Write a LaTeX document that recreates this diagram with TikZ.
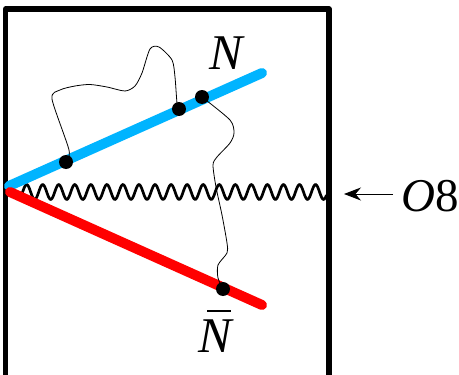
\documentclass[tikz,border=0pt]{standalone}
\usepackage{fontspec}
\setmainfont{Liberation Serif}
\usetikzlibrary{arrows.meta}
\definecolor{nblue}{RGB}{0,180,255}
\tikzset{
  frame/.style={line width=5.2pt,line join=round,black},
  quark/.style={line width=10pt,line cap=round},
  gluon/.style={line width=2.7pt,black},
  string/.style={line width=0.8pt,black},
  dot/.style={circle,fill=black,inner sep=0pt,minimum size=14pt},
  lab/.style={font=\fontsize{50}{50}\selectfont,inner sep=0pt,anchor=base west},
  oplab/.style={font=\fontsize{47}{47}\selectfont,inner sep=0pt,anchor=base west}
}
\begin{document}
\begin{tikzpicture}[x=1pt,y=-1pt]
\useasboundingbox (0,0) rectangle (459,375);
\fill[white] (0,0) rectangle (459,375);
\draw[frame] (5.5,380) -- (5.5,9) -- (329,9) -- (329,380);
\draw[gluon] plot[domain=21:326.5,samples=400] (\x,{192-7.4*cos(22.43*(\x-42.7))});
\coordinate (apex1) at (9,186);
\coordinate (end1) at (262,73);
\coordinate (apex2) at (10,192);
\coordinate (end2) at (262,305);
\draw[quark,nblue] (apex1) -- (end1);
\draw[quark,red] (apex2) -- (end2);
\node[dot] (a) at (66,162) {};
\node[dot] (b) at (179,109) {};
\node[dot] (c) at (202,97) {};
\node[dot] (d) at (223,289) {};
\draw[string] plot[smooth,tension=0.45] coordinates {(a.center) (69,150) (52,99) (60,90) (75,86) (90,84.5) (107,87) (125,91) (135,86) (142,73) (150,49) (159,47) (172,60) (175,77) (177,103) (b.center)};
\draw[string] plot[smooth,tension=0.45] coordinates {(c.center) (230,120) (234,133) (230,143) (217,157) (213,165) (216,187) (222,215) (227,243) (227,253) (218,265) (218,278) (d.center)};
\node[lab] (N) at (209,69) {\itshape N};
\node[lab] (Nbar) at (198,352.7) {\itshape\rlap{\kern9pt\raisebox{41pt}{\rule{24pt}{1.4pt}}}N};
\node[oplab] (O) at (401,211.7) {\textit{O}8};
\coordinate (tip) at (344,194);
\coordinate (tail) at (393,194);
\draw[line width=0.9pt,-{Stealth[length=17pt,width=13pt]}] (tail) -- (tip);
\end{tikzpicture}
\end{document}
